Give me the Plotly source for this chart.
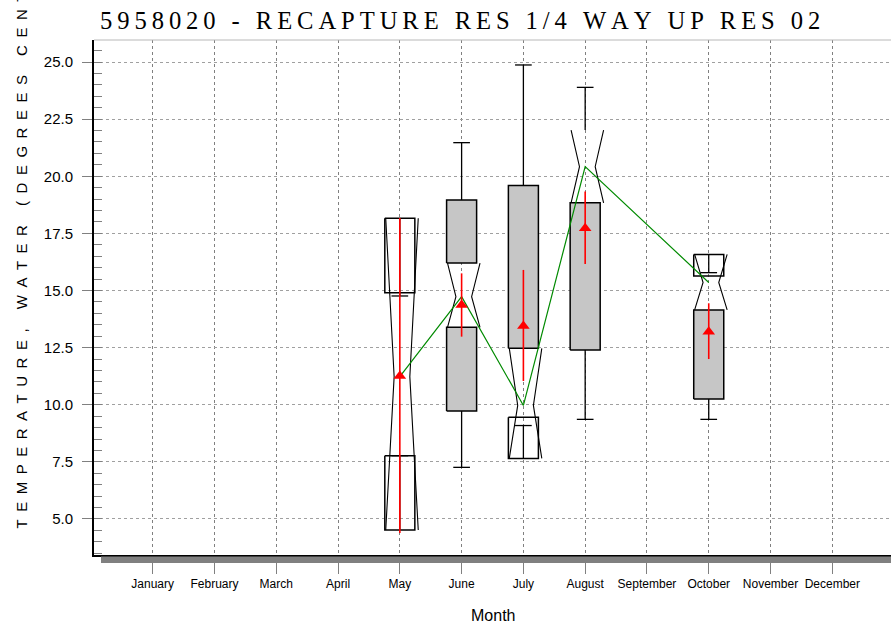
import plotly.graph_objects as go

# ---------------- data ----------------
month_names = ["January", "February", "March", "April", "May", "June", "July",
               "August", "September", "October", "November", "December"]
month_numbers = list(range(1, 13))
box_months = [5, 6, 7, 8, 10]
q1 = [7.77, 9.73, 9.45, 12.40, 10.25]
q3 = [14.90, 18.96, 19.60, 22.02, 15.63]
median = [11.23, 14.73, 9.97, 20.42, 15.35]
notch_lo = [4.52, 13.39, 7.65, 18.84, 14.15]
notch_hi = [18.16, 16.20, 12.47, 22.02, 16.58]
whisker_min = [7.77, 7.26, 9.09, 9.36, 9.36]
whisker_max = [14.76, 21.47, 24.87, 23.89, 15.78]
mean = [11.26, 14.37, 13.45, 17.72, 13.20]
ci_lo = [4.39, 12.98, 11.04, 16.16, 12.00]
ci_hi = [18.17, 15.75, 15.90, 19.33, 14.44]
y_ticks = [5.0, 7.5, 10.0, 12.5, 15.0, 17.5, 20.0, 22.5, 25.0]

title_text = "5958020 - RECAPTURE RES 1/4 WAY UP RES 02"
ytitle_text = "TEMPERATURE, WATER (DEGREES CENTIGRADE)"

# ---------------- style ----------------
GRAY = "#c6c6c6"
BOX_HW = 0.243
NOTCH_OFF = 0.035
NOTCH_OUT = 0.263
NOTCH_IN = 0.127
CAP_HW = 0.135

fig = go.Figure()

# whiskers
for i, m in enumerate(box_months):
    lo_edge = min(q1[i], notch_lo[i])
    hi_edge = max(q3[i], notch_hi[i])
    fig.add_trace(go.Scatter(
        x=[m, m, None, m - CAP_HW, m + CAP_HW, None, m, m, None, m - CAP_HW, m + CAP_HW],
        y=[lo_edge, whisker_min[i], None, whisker_min[i], whisker_min[i], None,
           hi_edge, whisker_max[i], None, whisker_max[i], whisker_max[i]],
        mode="lines", line=dict(color="black", width=1.3),
        hoverinfo="skip", showlegend=False))

# box parts
for i, m in enumerate(box_months):
    parts = [(q1[i], notch_lo[i], notch_lo[i] > q1[i]),
             (notch_hi[i], q3[i], q3[i] > notch_hi[i])]
    for a, b, filled in parts:
        if abs(a - b) < 0.1:
            continue
        fig.add_trace(go.Scatter(
            x=[m - BOX_HW, m + BOX_HW, m + BOX_HW, m - BOX_HW, m - BOX_HW],
            y=[a, a, b, b, a],
            mode="lines", fill="toself" if filled else "none",
            fillcolor=GRAY, line=dict(color="black", width=1.5),
            hoverinfo="skip", showlegend=False))
    c = m + NOTCH_OFF
    fig.add_trace(go.Scatter(
        x=[c - NOTCH_OUT, c - NOTCH_IN, c - NOTCH_OUT, None,
           c + NOTCH_OUT, c + NOTCH_IN, c + NOTCH_OUT],
        y=[notch_lo[i], median[i], notch_hi[i], None,
           notch_lo[i], median[i], notch_hi[i]],
        mode="lines", line=dict(color="black", width=1.1),
        hoverinfo="skip", showlegend=False))

# median connecting line
fig.add_trace(go.Scatter(x=box_months, y=median, mode="lines",
                         line=dict(color="#008a00", width=1.2),
                         hoverinfo="skip", showlegend=False))

# mean CI lines
ci_x, ci_y = [], []
for i, m in enumerate(box_months):
    ci_x += [m, m, None]
    ci_y += [ci_lo[i], ci_hi[i], None]
fig.add_trace(go.Scatter(x=ci_x, y=ci_y, mode="lines",
                         line=dict(color="#ff0000", width=1.6),
                         hoverinfo="skip", showlegend=False))
fig.add_trace(go.Scatter(x=box_months, y=mean, mode="markers",
                         marker=dict(symbol="triangle-up", size=11, color="#ff0000",
                                     line=dict(width=0)),
                         hoverinfo="skip", showlegend=False))

spaced_title = "\u2009".join(title_text)
spaced_ytitle = "\u2002".join(ytitle_text)

fig.update_layout(
    width=891, height=626,
    margin=dict(l=94, r=0, t=40, b=71, autoexpand=False),
    paper_bgcolor="white", plot_bgcolor="white",
    showlegend=False,
    title=dict(text=spaced_title, x=100 / 891, xanchor="left", xref="container",
               y=1 - 20 / 626, yanchor="middle", yref="container", automargin=False,
               font=dict(family="Liberation Serif", size=24.6, color="black")),
    xaxis=dict(range=[0.05, 12.95], tickmode="array", tickvals=month_numbers,
               ticktext=month_names, showgrid=True, gridcolor="#808080",
               griddash="dot", gridwidth=1, ticks="outside", ticklen=17,
               tickcolor="#808080", showline=True, linecolor="black", linewidth=2,
               zeroline=False, tickangle=0, automargin=False,
               tickfont=dict(family="Liberation Sans", size=12, color="black")),
    yaxis=dict(range=[3.424, 25.963], tickmode="array", tickvals=y_ticks,
               tickformat=".1f", showgrid=True, gridcolor="#a0a0a0", griddash="dot",
               gridwidth=1, ticks="outside", ticklen=10, tickcolor="#808080",
               minor=dict(dtick=0.5, tick0=0, ticks="inside", ticklen=8,
                          tickcolor="#808080", showgrid=False),
               showline=True, linecolor="black", linewidth=2, zeroline=False,
               automargin=False, ticklabelstandoff=6,
               tickfont=dict(family="Liberation Sans", size=15, color="black")),
    shapes=[
        dict(type="rect", xref="paper", yref="paper", x0=0.0088, x1=1.0,
             y0=-0.0155, y1=-0.003, fillcolor="#808080", line=dict(width=0),
             layer="above"),
        dict(type="line", xref="paper", yref="paper", x0=0, x1=1, y0=1, y1=1,
             line=dict(color="#b8b8b8", width=1)),
    ],
    annotations=[
        dict(text=spaced_ytitle, textangle=-90, xref="paper", yref="paper",
             x=(22 - 94) / 796, y=(555 - 530) / 515, xanchor="center", yanchor="bottom",
             showarrow=False,
             font=dict(family="Liberation Sans", size=15, color="black")),
        dict(text="Month", xref="paper", yref="paper", x=0.5, y=(555 - 615) / 515,
             xanchor="center", yanchor="middle", showarrow=False,
             font=dict(family="Liberation Sans", size=16, color="black")),
    ],
)

fig.write_html("out.html", config={"displayModeBar": False},
               post_script="document.body.style.margin='0';document.body.style.overflow='hidden';")
